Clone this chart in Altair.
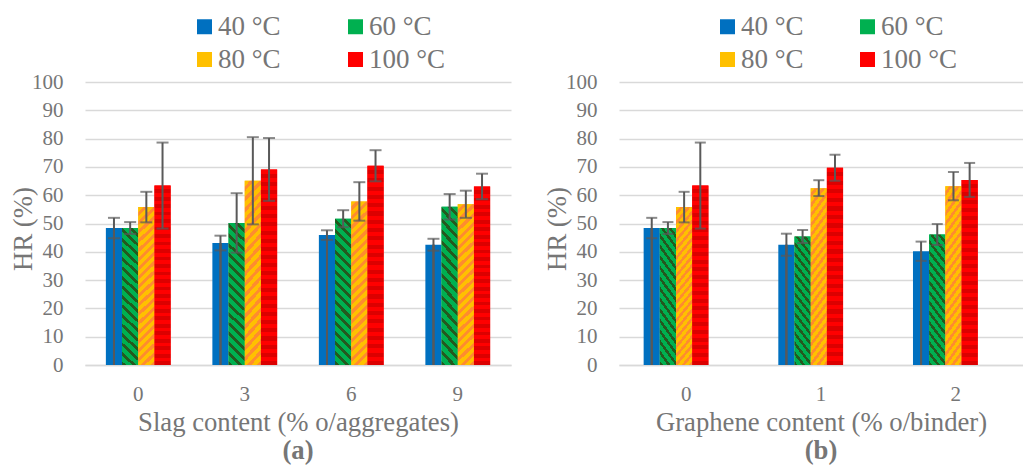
import altair as alt
import pandas as pd

# ---- data ----
temps = ["40 °C", "60 °C", "80 °C", "100 °C"]
colors = ["#0070C0", "#00B050", "#FFC000", "#FF0000"]

slag_levels = ["0", "3", "6", "9"]
slag_40 = [48.4, 43.1, 45.9, 42.5]
slag_60 = [48.4, 50.2, 51.7, 55.9]
slag_80 = [55.8, 65.1, 57.8, 56.8]
slag_100 = [63.4, 69.1, 70.4, 63.1]
slag_err_40 = [3.6, 2.6, 1.7, 2.1]
slag_err_60 = [2.1, 10.5, 3.0, 4.5]
slag_err_80 = [5.4, 15.4, 6.8, 4.8]
slag_err_100 = [15.2, 11.1, 5.5, 4.5]

gr_levels = ["0", "1", "2"]
gr_40 = [48.4, 42.5, 40.2]
gr_60 = [48.4, 45.4, 46.1]
gr_80 = [55.8, 62.5, 63.2]
gr_100 = [63.4, 69.7, 65.4]
gr_err_40 = [3.6, 3.9, 3.4]
gr_err_60 = [2.1, 2.3, 3.7]
gr_err_80 = [5.4, 2.8, 5.0]
gr_err_100 = [15.2, 4.6, 6.0]

y_ticks = list(range(0, 101, 10))


def make_df(levels, vals, errs):
    rows = []
    for t, v, e in zip(temps, vals, errs):
        for lv, vv, ee in zip(levels, v, e):
            rows.append({"level": lv, "temp": t, "hr": vv, "err": ee})
    return pd.DataFrame(rows)


df_a = make_df(slag_levels, [slag_40, slag_60, slag_80, slag_100],
               [slag_err_40, slag_err_60, slag_err_80, slag_err_100])
df_b = make_df(gr_levels, [gr_40, gr_60, gr_80, gr_100],
               [gr_err_40, gr_err_60, gr_err_80, gr_err_100])

FONT = "Liberation Serif"
TXT = "#767676"
ERR = "#595959"
GRID = "#D9D9D9"
H = 283


def stripe_stops(bg, fg, n, frac):
    stops = []
    for i in range(n):
        a0 = i / n
        a1 = (i + frac) / n
        a2 = (i + 1) / n
        stops += [{"offset": a0, "color": bg}, {"offset": a1, "color": bg},
                  {"offset": a1, "color": fg}, {"offset": a2, "color": fg}]
    return stops


def diag_gradient(bg, fg, w, h, period, frac, down):
    a = w / h
    k = (1 + a) / (1 + a * a)
    n = max(1, round((h + w) / period))
    if down:   # "\" stripes
        x1, y1, x2, y2 = 1, 0, 1 - k * a, k
    else:      # "/" stripes
        x1, y1, x2, y2 = 0, 0, k * a, k
    return {"gradient": "linear", "x1": x1, "y1": y1, "x2": x2, "y2": y2,
            "stops": stripe_stops(bg, fg, n, frac)}


def horiz_gradient(bg, fg, h, period, frac):
    n = max(1, round(h / period))
    return {"gradient": "linear", "x1": 0, "y1": 0, "x2": 0, "y2": 1,
            "stops": stripe_stops(bg, fg, n, frac)}


def panel(df, levels, xtitle, tag, width, pin, legx, colpad, cap):
    n_lv = len(levels)
    bw = width / n_lv * (1 - pin) / 4
    px = H / 100.0
    mean = df.groupby("temp")["hr"].mean()

    x = alt.X("level:N", sort=levels, title=xtitle,
              scale=alt.Scale(paddingInner=pin, paddingOuter=pin / 2),
              axis=alt.Axis(labelAngle=0, ticks=False, tickSize=0, grid=False,
                            domainColor=GRID, domainWidth=1.5,
                            labelFont=FONT, labelFontSize=21, labelColor=TXT,
                            labelBaseline="middle", labelPadding=29,
                            titleFont=FONT, titleFontSize=26.7, titleColor=TXT,
                            titleFontWeight="normal", titleBaseline="middle",
                            titleY=57))
    xo = alt.XOffset("temp:N", sort=temps,
                     scale=alt.Scale(domain=temps, paddingInner=0, paddingOuter=0))
    y_axis = alt.Axis(values=y_ticks, ticks=False, tickSize=0, domain=False,
                      labelOverlap=False,
                      gridColor=GRID, gridWidth=1.5,
                      labelFont=FONT, labelFontSize=21, labelColor=TXT,
                      labelPadding=22,
                      titleFont=FONT, titleFontSize=26.7, titleColor=TXT,
                      titleFontWeight="normal", titleBaseline="middle",
                      titleX=-62, titleY=H / 2 + 5)
    yscale = alt.Scale(domain=[0, 100], nice=False)

    def Y(field):
        return alt.Y(field, title="HR (%)", scale=yscale, axis=y_axis)

    base = alt.Chart(df).encode(x=x, xOffset=xo)
    bars = base.mark_bar().encode(
        y=Y("hr:Q"),
        color=alt.Color("temp:N", sort=temps,
                        scale=alt.Scale(domain=temps, range=colors),
                        legend=alt.Legend(orient="none", legendX=legx, legendY=-69,
                                          direction="horizontal",
                                          columns=2, columnPadding=colpad,
                                          rowPadding=5, title=None,
                                          symbolType="square", symbolSize=225,
                                          symbolStrokeWidth=0, labelOffset=0,
                                          labelFont=FONT, labelFontSize=27,
                                          labelColor=TXT)),
    )
    g60 = diag_gradient("#00B050", "#24591F", bw, mean["60 °C"] * px, 10, 0.6, True)
    g80 = diag_gradient("#FFC000", "#FF8C2E", bw, mean["80 °C"] * px, 9.5, 0.55, False)
    g100 = horiz_gradient("#FF0000", "#DC0000", mean["100 °C"] * px, 8, 0.5)

    def overlay(t, grad):
        return base.transform_filter(alt.datum.temp == t).mark_bar(fill=grad).encode(
            y=Y("hr:Q"))

    blue = base.transform_filter(alt.datum.temp == "40 °C")
    line1 = blue.mark_rule(color=ERR, strokeWidth=2, xOffset=-4).encode(
        y=Y("hr:Q"), y2=alt.datum(0))
    line2 = blue.mark_rule(color=ERR, strokeWidth=2, xOffset=6.5).encode(
        y=Y("hr:Q"), y2=alt.datum(0))
    eb = base.transform_calculate(lo="datum.hr - datum.err", hi="datum.hr + datum.err")
    rule = eb.mark_rule(color=ERR, strokeWidth=2).encode(y=Y("lo:Q"), y2="hi:Q")
    top = eb.mark_tick(color=ERR, thickness=2, size=cap, orient="horizontal").encode(
        y=Y("hi:Q"))
    bot = eb.mark_tick(color=ERR, thickness=2, size=cap, orient="horizontal").encode(
        y=Y("lo:Q"))
    return alt.layer(bars, overlay("60 °C", g60), overlay("80 °C", g80),
                     overlay("100 °C", g100), line1, line2, rule, top, bot).properties(
        width=width, height=H,
        view=alt.ViewBackground(stroke="transparent", strokeWidth=0),
        title=alt.TitleParams(tag, orient="bottom", anchor="middle", font=FONT,
                              fontSize=26.7, fontWeight="bold", color=TXT, offset=2),
    )


pa = panel(df_a, slag_levels, "Slag content (% o/aggregates)", "(a)", 426, 0.392, 106, 61, 12)
pb = panel(df_b, gr_levels, "Graphene content (% o/binder)", "(b)", 404, 0.366, 95, 50, 11)

chart = alt.hconcat(pa, pb, spacing=33).resolve_scale(color="independent").properties(
    padding={"left": 2, "top": 5, "right": 0, "bottom": 0}
).configure_view(stroke="transparent", strokeWidth=0).configure(
    background="white", font=FONT).configure_axis(
    labelFont=FONT, titleFont=FONT).configure_legend(labelFont=FONT)

chart.save("out.html", embed_options={"renderer": "svg", "actions": False})
